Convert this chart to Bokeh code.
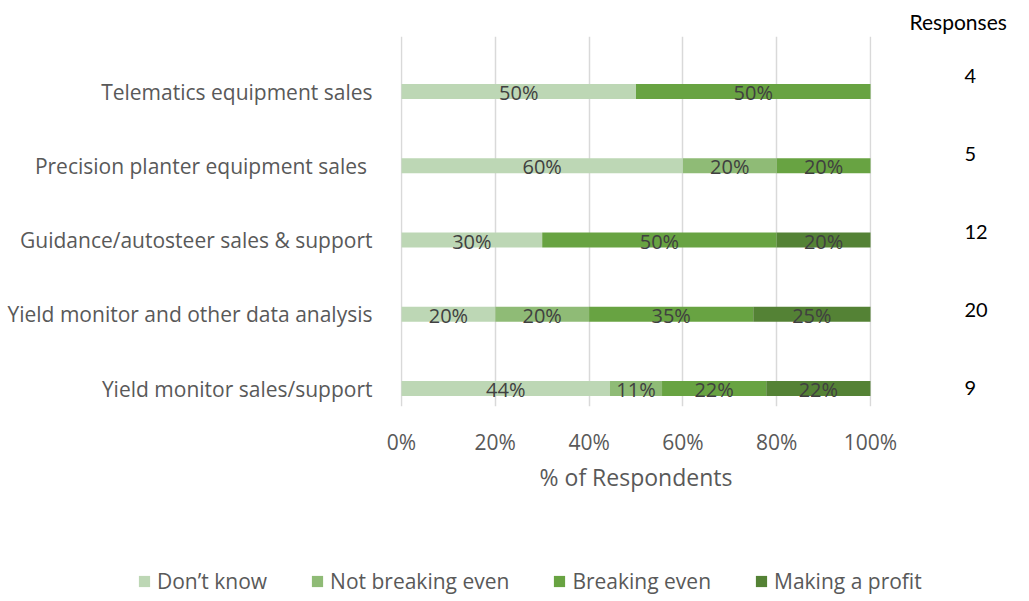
from bokeh.plotting import figure
from bokeh.layouts import column
from bokeh.models import (ColumnDataSource, FixedTicker, Legend, LegendItem,
                          Range1d, LinearAxis)
from bokeh.core.properties import value
from bokeh.embed import file_html
from bokeh.resources import INLINE

# ---------------- data ----------------
categories = ["Yield monitor sales/support",
              "Yield monitor and other data analysis",
              "Guidance/autosteer sales & support",
              "Precision planter equipment sales ",
              "Telematics equipment sales"]
dont_know = [44.44, 20, 30, 60, 50]
not_breaking = [11.11, 20, 0, 20, 0]
breaking = [22.22, 35, 50, 20, 50]
profit = [22.22, 25, 20, 0, 0]
responses = [9, 20, 12, 5, 4]
series_names = ["Don\u2019t know", "Not breaking even", "Breaking even", "Making a profit"]
x_ticks = [0, 20, 40, 60, 80, 100]
x_tick_labels = ["0%", "20%", "40%", "60%", "80%", "100%"]

colors = ["#BDD7B5", "#8FBB76", "#68A342", "#548235"]
keys = ["s0", "s1", "s2", "s3"]
series = [dont_know, not_breaking, breaking, profit]

pos = list(range(len(categories)))
data = {"y": pos}
for k, s in zip(keys, series):
    data[k] = s
src = ColumnDataSource(data)

W = 1013
LEFT = 400
# pixel scale: 0..100 -> 401..870 ; y pos 0 -> 388, 1 unit = 74.25 px
x_start = -1 / 4.69
x_end = 100 + 1 / 4.69
y_bottom = -18 / 74.25
y_top = (388 - 36) / 74.25

p = figure(width=W, height=560, output_backend="svg", toolbar_location=None,
           x_range=Range1d(x_start, x_end), y_range=Range1d(y_bottom, y_top),
           min_border_left=LEFT, min_border_right=W - 871, min_border_top=36,
           min_border_bottom=154)
p.outline_line_color = None
p.background_fill_color = "white"
p.xgrid.ticker = FixedTicker(ticks=x_ticks)
p.xgrid.grid_line_color = "#D9D9D9"
p.xgrid.grid_line_width = 1.5
p.ygrid.grid_line_color = None

rs = p.hbar_stack(keys, y="y", height=0.2, color=colors, source=src,
                  line_color=None)

# data labels
lx, ly, lt = [], [], []
for i in pos:
    cum = 0
    for s in series:
        v = s[i]
        if v > 0:
            lx.append(cum + v / 2)
            ly.append(i)
            lt.append(f"{round(v):d}%")
        cum += v
lsrc = ColumnDataSource(dict(x=lx, y=ly, t=lt))
p.text(x="x", y="y", text="t", source=lsrc, text_align="center",
       text_baseline="middle", text_color="#404040", text_font=value("Open Sans"),
       text_font_size="20px", y_offset=1)

# axes
p.xaxis.ticker = FixedTicker(ticks=x_ticks)
p.xaxis.major_label_overrides = {t: l for t, l in zip(x_ticks, x_tick_labels)}
p.xaxis.axis_label = "% of Respondents"
p.yaxis.ticker = FixedTicker(ticks=pos)
p.yaxis.major_label_overrides = {i: c for i, c in zip(pos, categories)}
for ax in (p.xaxis, p.yaxis):
    ax.axis_line_color = None
    ax.major_tick_line_color = None
    ax.minor_tick_line_color = None
    ax.major_label_text_font = "Open Sans"
    ax.major_label_text_font_size = "21px"
    ax.major_label_text_color = "#595959"
p.xaxis.major_label_standoff = 15
p.yaxis.major_label_standoff = 22
p.xaxis.axis_label_text_font = "Open Sans"
p.xaxis.axis_label_text_font_size = "23px"
p.xaxis.axis_label_text_font_style = "normal"
p.xaxis.axis_label_text_color = "#595959"
p.xaxis.axis_label_standoff = 2

# responses column (right axis)
resp_y = [round(0.013 + i * 1.0505, 4) for i in pos]
raxis = LinearAxis(ticker=FixedTicker(ticks=resp_y),
                   major_label_overrides={t: str(r) for t, r in zip(resp_y, responses)})
raxis.axis_line_color = None
raxis.major_tick_line_color = None
raxis.minor_tick_line_color = None
raxis.major_label_text_font = "Lato"
raxis.major_label_text_font_size = "20px"
raxis.major_label_text_color = "#000000"
raxis.major_label_standoff = 87
p.add_layout(raxis, "right")

p.title.text = "Responses"
p.title.align = "left"
p.title.offset = 910 - 401
p.title.text_font = "Lato"
p.title.text_font_size = "21px"
p.title.text_font_style = "normal"
p.title.text_color = "#000000"
p.title.standoff = 6

# legend figure (frame spans the whole strip)
lf = figure(width=W, height=41, output_backend="svg", toolbar_location=None,
            x_range=Range1d(0, 1), y_range=Range1d(0, 1),
            min_border_left=0, min_border_right=0, min_border_top=0,
            min_border_bottom=0)
lf.frame_align = False
lf.axis.visible = False
lf.grid.grid_line_color = None
lf.outline_line_color = None
dummies = [lf.hbar(y=[0.5], left=[5], right=[6], height=0.1, fill_color=c,
                   line_color=None) for c in colors]
items = [LegendItem(label=n, renderers=[r]) for n, r in zip(series_names, dummies)]
legend = Legend(items=items, orientation="horizontal", location=(137, 6),
                glyph_width=14, glyph_height=14, label_standoff=6, spacing=43,
                padding=0, margin=0, border_line_color=None,
                background_fill_alpha=0,
                label_text_font="Open Sans", label_text_font_size="21px",
                label_text_color="#595959")
lf.add_layout(legend, "center")

layout = column(p, lf, spacing=0)
open("out.html", "w").write(file_html(layout, INLINE))
